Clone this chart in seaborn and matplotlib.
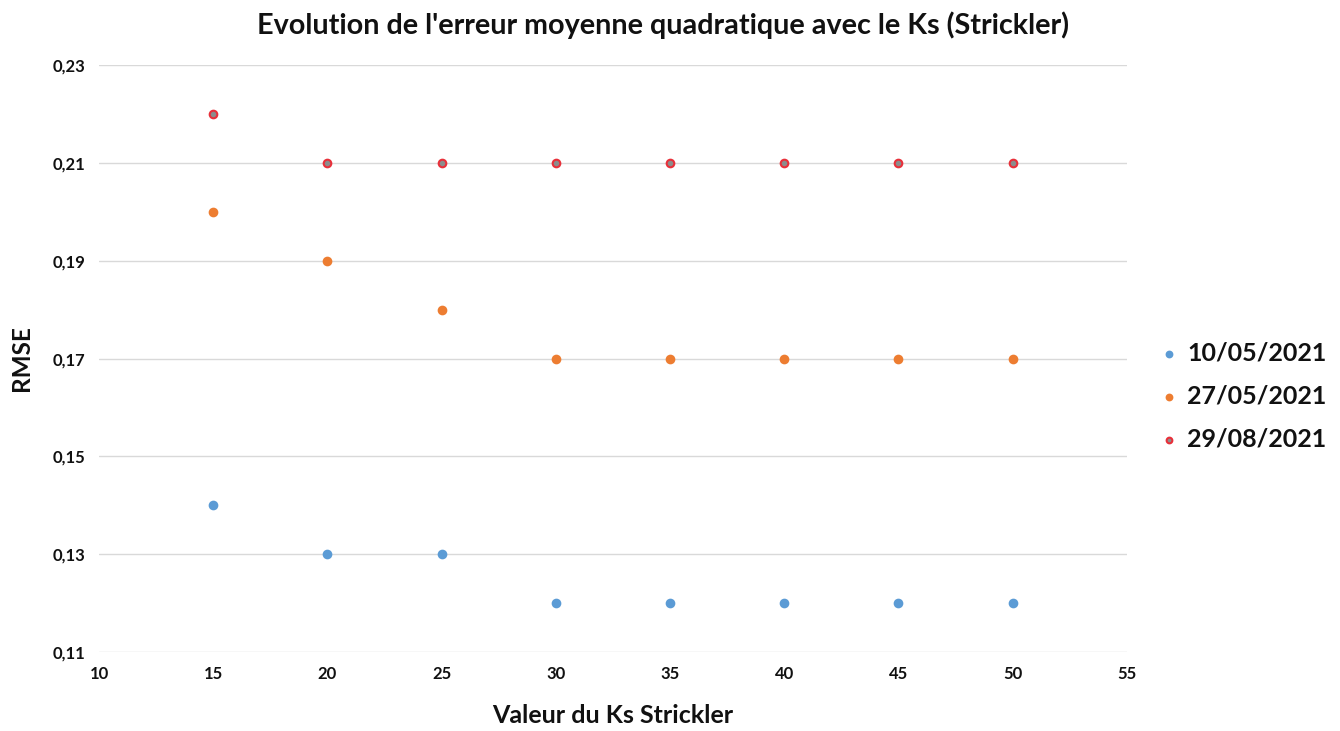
import matplotlib
matplotlib.use("Agg")
import matplotlib.pyplot as plt
import seaborn as sns
import pandas as pd
from matplotlib.ticker import FuncFormatter, MultipleLocator

ks = [15, 20, 25, 30, 35, 40, 45, 50]
rmse_1005 = [0.14, 0.13, 0.13, 0.12, 0.12, 0.12, 0.12, 0.12]
rmse_2705 = [0.20, 0.19, 0.18, 0.17, 0.17, 0.17, 0.17, 0.17]
rmse_2908 = [0.22, 0.21, 0.21, 0.21, 0.21, 0.21, 0.21, 0.21]
series_names = ["10/05/2021", "27/05/2021", "29/08/2021"]

sns.set_theme(style="white")
plt.rcParams['font.family'] = ['Lato', 'DejaVu Sans']
plt.rcParams['text.color'] = '#111111'
plt.rcParams['axes.labelcolor'] = '#111111'
plt.rcParams['xtick.color'] = '#111111'
plt.rcParams['ytick.color'] = '#111111'

fig = plt.figure(figsize=(13.4, 7.31), dpi=100)
ax = fig.add_axes([0.0739, 0.108, 0.767, 0.803])

styles = [
    dict(color="#5B9BD5", edgecolor="#5B9BD5"),
    dict(color="#ED7D31", edgecolor="#ED7D31"),
    dict(color="#8C8C8C", edgecolor="#E8303A"),
]
for name, vals, st in zip(series_names, [rmse_1005, rmse_2705, rmse_2908], styles):
    df = pd.DataFrame({"ks": ks, "rmse": vals})
    sns.scatterplot(data=df, x="ks", y="rmse", ax=ax, s=30, linewidth=1.5,
                    label=name, zorder=3, **st)

ax.set_xlim(10, 55)
ax.set_ylim(0.11, 0.23)
ax.xaxis.set_major_locator(MultipleLocator(5))
ax.set_yticks([0.11, 0.13, 0.15, 0.17, 0.19, 0.21, 0.23])
ax.yaxis.set_major_formatter(FuncFormatter(lambda v, p: f"{v:.2f}".replace(".", ",")))
ax.grid(axis="y", color="#D9D9D9", linewidth=1)
for s in ax.spines.values():
    s.set_visible(False)
ax.tick_params(axis="both", length=0, labelsize=12, pad=10)
for lab in ax.get_xticklabels() + ax.get_yticklabels():
    lab.set_fontweight("bold")

ax.set_xlabel("Valeur du Ks Strickler", fontsize=18, fontweight="bold", labelpad=16)
ax.set_ylabel("RMSE", fontsize=17.5, fontweight="bold", labelpad=14)
fig.text(663 / 1340, 0.965, "Evolution de l'erreur moyenne quadratique avec le Ks (Strickler)",
         fontsize=20.7, fontweight="bold", ha="center", va="center")

leg = ax.legend(loc="center left", bbox_to_anchor=(1.005, 0.436), frameon=False,
                prop={"size": 18, "weight": "bold"}, handletextpad=0.1,
                handlelength=1.2, labelspacing=0.8, markerscale=0.75)

fig.savefig("out.png", dpi=100)
